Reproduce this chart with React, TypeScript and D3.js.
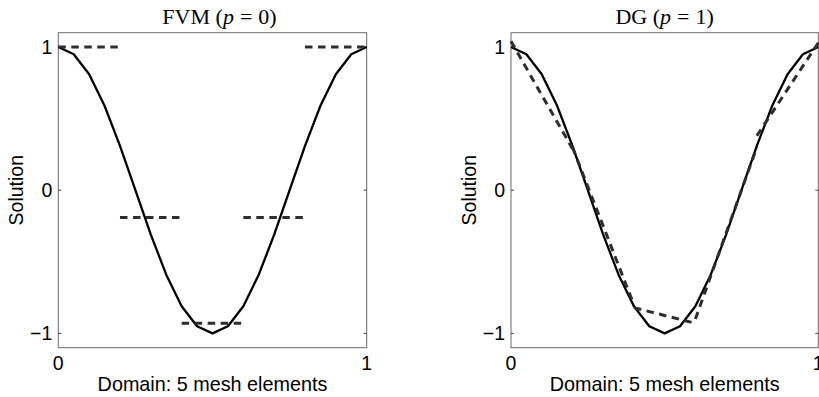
import React from "react";
import * as d3 from "d3";

const fineX = [0, 0.05, 0.1, 0.15, 0.2, 0.25, 0.3, 0.35, 0.4, 0.45, 0.5, 0.55, 0.6, 0.65, 0.7, 0.75, 0.8, 0.85, 0.9, 0.95, 1];
const fineY = [1, 0.95, 0.81, 0.59, 0.31, 0, -0.31, -0.59, -0.81, -0.95, -1, -0.95, -0.81, -0.59, -0.31, 0, 0.31, 0.59, 0.81, 0.95, 1];

// Mesh element edges
const cellEdges = [0, 0.2, 0.4, 0.6, 0.8, 1];

// FVM (p = 0): one constant per element
const fvmValues = [1.0, -0.19, -0.93, -0.19, 1.0];

// DG (p = 1): left/right values per element
const dgLeft = [1.04, 0.30, -0.82, -0.90, 0.38];
const dgRight = [0.29, -0.80, -0.93, 0.30, 1.03];

const yTicks = [-1, 0, 1];
const xTicks = [0, 1];
const xLabel = "Domain: 5 mesh elements";
const yLabel = "Solution";

const W = 819;
const H = 397;
const TOP = 32.7;
const BOTTOM = 347.7;

type Seg = { x: number; y: number }[];

function Panel({
  left,
  right,
  title,
  titleShift,
  segments,
}: {
  left: number;
  right: number;
  title: React.ReactNode;
  titleShift: number;
  segments: Seg[];
}) {
  const x = d3.scaleLinear().domain([0, 1]).range([left, right]);
  const y = d3.scaleLinear().domain([-1.1, 1.1]).range([BOTTOM, TOP]);
  const line = d3
    .line<{ x: number; y: number }>()
    .x((d) => x(d.x))
    .y((d) => y(d.y));
  const fine = fineX.map((v, i) => ({ x: v, y: fineY[i] }));
  const cx = (left + right) / 2;
  const sans = "'Liberation Sans', Arial, Helvetica, sans-serif";
  return (
    <g>
      <rect x={left} y={TOP} width={right - left} height={BOTTOM - TOP} fill="white" stroke="#6a6a6a" strokeWidth={1} />
      {yTicks.map((t) => (
        <g key={"yt" + t}>
          <line x1={left} x2={left + 3} y1={y(t)} y2={y(t)} stroke="#444" strokeWidth={1} />
          <line x1={right} x2={right - 3} y1={y(t)} y2={y(t)} stroke="#444" strokeWidth={1} />
          <text x={left - 6} y={y(t) + 7} textAnchor="end" fontFamily={sans} fontSize={19.5} fill="#000">
            {t < 0 ? "\u2212" + Math.abs(t) : String(t)}
          </text>
        </g>
      ))}
      {xTicks.map((t) => (
        <text key={"xt" + t} x={x(t)} y={370} textAnchor="middle" fontFamily={sans} fontSize={19.5} fill="#000">
          {String(t)}
        </text>
      ))}
      <text x={cx} y={391} textAnchor="middle" fontFamily={sans} fontSize={19.8} fill="#000">
        {xLabel}
      </text>
      <text
        transform={`translate(${left - 35},${(TOP + BOTTOM) / 2}) rotate(-90)`}
        textAnchor="middle"
        fontFamily={sans}
        fontSize={19.5}
        fill="#000"
      >
        {yLabel}
      </text>
      <text x={cx + titleShift} y={24} textAnchor="middle" fontFamily="'Liberation Serif', 'Times New Roman', serif" fontSize={22} fill="#000">
        {title}
      </text>
      <path d={line(fine) || ""} fill="none" stroke="#000" strokeWidth={2.3} strokeLinejoin="round" />
      {segments.map((s, i) => (
        <path key={"s" + i} d={line(s) || ""} fill="none" stroke="#2e2e2e" strokeWidth={3} strokeDasharray="7.5 5.5" />
      ))}
    </g>
  );
}

export default function App() {
  const fvmSegs: Seg[] = fvmValues.map((v, i) => [
    { x: cellEdges[i], y: v },
    { x: cellEdges[i + 1], y: v },
  ]);
  const dgSegs: Seg[] = dgLeft.map((v, i) => [
    { x: cellEdges[i], y: v },
    { x: cellEdges[i + 1], y: dgRight[i] },
  ]);
  return (
    <svg width={W} height={H} style={{ position: "absolute", left: 0, top: 0, background: "white" }}>
      <rect x={0} y={0} width={W} height={H} fill="white" />
      <Panel
        left={58.3}
        right={366.7}
        titleShift={7}
        segments={fvmSegs}
        title={
          <>
            FVM (<tspan fontStyle="italic">p</tspan>
            <tspan dx={6}>=</tspan>
            <tspan dx={6}>0)</tspan>
          </>
        }
      />
      <Panel
        left={511}
        right={818.3}
        titleShift={0}
        segments={dgSegs}
        title={
          <>
            DG (<tspan fontStyle="italic">p</tspan>
            <tspan dx={6}>=</tspan>
            <tspan dx={6}>1)</tspan>
          </>
        }
      />
    </svg>
  );
}
